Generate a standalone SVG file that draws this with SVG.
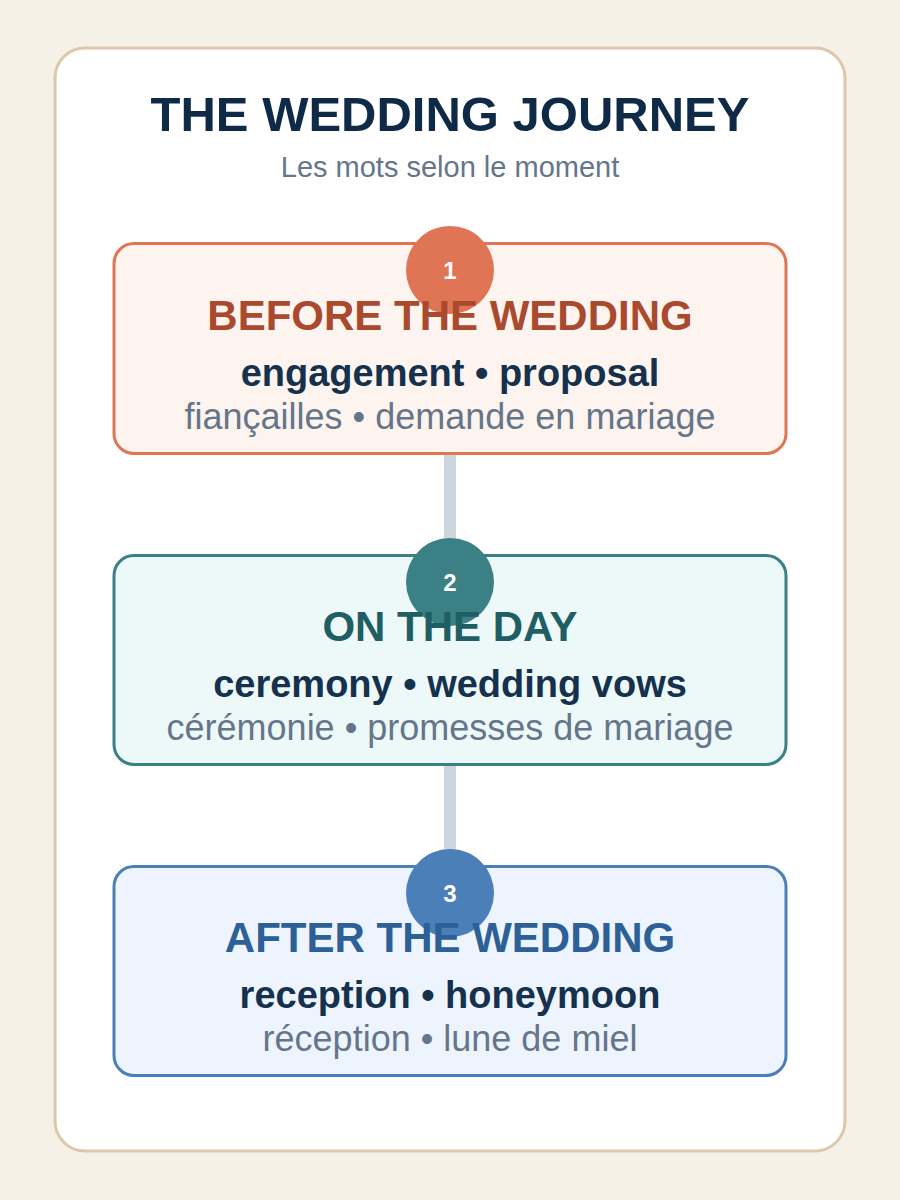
<svg xmlns="http://www.w3.org/2000/svg" width="900" height="1200" viewBox="0 0 900 1200">
  <style>
    text { font-family: "Liberation Sans", Arial, sans-serif; text-anchor: middle; }
    .title { font-size: 49px; font-weight: bold; fill: #0f2a47; }
    .subtitle { font-size: 29px; fill: #65768a; }
    .box { stroke-width: 3; }
    .num { font-size: 24px; font-weight: bold; fill: #ffffff; }
    .stage { font-size: 42px; font-weight: bold; }
    .en { font-size: 38px; font-weight: bold; fill: #15314d; }
    .fr { font-size: 36px; fill: #66768a; }
    .conn { stroke: #cdd6df; stroke-width: 12; }
  </style>
  <rect x="0" y="0" width="900" height="1200" fill="#f6f1e7"/>
  <rect x="55" y="48" width="790" height="1103" rx="30" ry="30" fill="#ffffff" stroke="#dcc8aa" stroke-width="3"/>
  <text class="title" x="450" y="131">THE WEDDING JOURNEY</text>
  <text class="subtitle" x="450" y="177">Les mots selon le moment</text>

  <g id="connectors">
    <line class="conn" x1="450" y1="454" x2="450" y2="556"/>
    <line class="conn" x1="450" y1="765" x2="450" y2="867"/>
  </g>

  <g id="node1">
    <rect class="box" x="114" y="243.5" width="672" height="210" rx="20" ry="20" fill="#fef4ef" stroke="#df7555"/>
    <circle cx="450" cy="270" r="44" fill="#df7555"/>
    <text class="num" x="450" y="279">1</text>
    <text class="stage" x="450" y="330" fill="#a94a2e">BEFORE THE WEDDING</text>
    <text class="en" x="450" y="386">engagement • proposal</text>
    <text class="fr" x="450" y="429">fiançailles • demande en mariage</text>
  </g>

  <g id="node2">
    <rect class="box" x="114" y="555.5" width="672" height="209" rx="20" ry="20" fill="#edf8f8" stroke="#3a8085"/>
    <circle cx="450" cy="582" r="44" fill="#3a8085"/>
    <text class="num" x="450" y="591">2</text>
    <text class="stage" x="450" y="641" fill="#1f5f63">ON THE DAY</text>
    <text class="en" x="450" y="697">ceremony • wedding vows</text>
    <text class="fr" x="450" y="740">cérémonie • promesses de mariage</text>
  </g>

  <g id="node3">
    <rect class="box" x="114" y="866.5" width="672" height="209" rx="20" ry="20" fill="#eef4fe" stroke="#4a7fb8"/>
    <circle cx="450" cy="893" r="44" fill="#4a7fb8"/>
    <text class="num" x="450" y="902">3</text>
    <text class="stage" x="450" y="952" fill="#2d6096">AFTER THE WEDDING</text>
    <text class="en" x="450" y="1008">reception • honeymoon</text>
    <text class="fr" x="450" y="1051">réception • lune de miel</text>
  </g>
</svg>
